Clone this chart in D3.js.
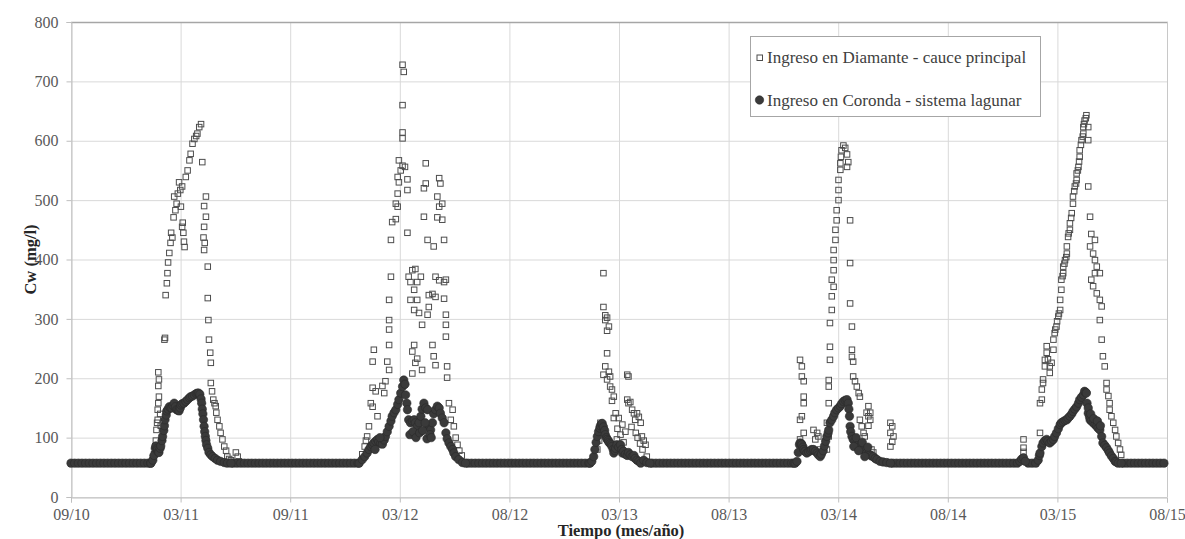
<!DOCTYPE html>
<html>
<head>
<meta charset="utf-8">
<script src="https://cdn.jsdelivr.net/npm/d3@7"></script>
<style>
  html, body { margin: 0; padding: 0; background: #fff; }
  svg { display: block; }
</style>
</head>
<body>
<svg id="chart" width="1185" height="539"></svg>
<script>
// ---- axis labels -------------------------------------------------------
const xTickLabels = ["09/10", "03/11", "09/11", "03/12", "08/12", "03/13", "08/13", "03/14", "08/14", "03/15", "08/15"];
const yTickValues = [0, 100, 200, 300, 400, 500, 600, 700, 800];
const seriesNames = ["Ingreso en Diamante - cauce principal", "Ingreso en Coronda - sistema lagunar"];
const xTitle = "Tiempo (mes/año)";
const yTitle = "Cw (mg/l)";

// time is counted in days from the first axis label (09/10) to the last (08/15)
const dayExtent = [0, 1795];

// ---- Cw readings: [day, mg/l] -----------------------------------------
// low-water level between the saline pulses
const corondaBase = [
  [0,57],[6,57],[12,57],[18,57],[24,57],[30,57],[36,57],[42,57],[48,57],[54,57],[60,57],[66,57],[72,57],[78,57],[84,57],[90,57],[96,57],[102,57],[108,57],[114,57],[120,57],[126,57],[130,57],
  [266,57],[272,57],[278,57],[284,57],[290,57],[296,57],[302,57],[308,57],[314,57],[320,57],[326,57],[332,57],[338,57],[344,57],[350,57],[356,57],[362,57],[368,57],[374,57],[380,57],[386,57],[392,57],[398,57],[404,57],[410,57],[416,57],[422,57],[428,57],[434,57],[440,57],[446,57],[452,57],[458,57],[464,57],[470,57],
  [650,57],[656,57],[662,57],[668,57],[674,57],[680,57],[686,57],[692,57],[698,57],[704,57],[710,57],[716,57],[722,57],[728,57],[734,57],[740,57],[746,57],[752,57],[758,57],[764,57],[770,57],[776,57],[782,57],[788,57],[794,57],[800,57],[806,57],[812,57],[818,57],[824,57],[830,57],[836,57],[842,57],[848,57],
  [952,57],[958,57],[964,57],[970,57],[976,57],[982,57],[988,57],[994,57],[1000,57],[1006,57],[1012,57],[1018,57],[1024,57],[1030,57],[1036,57],[1042,57],[1048,57],[1054,57],[1060,57],[1066,57],[1072,57],[1078,57],[1084,57],[1090,57],[1096,57],[1102,57],[1108,57],[1114,57],[1120,57],[1126,57],[1132,57],[1138,57],[1144,57],[1150,57],[1156,57],[1162,57],[1168,57],[1174,57],[1180,57],[1184,57],
  [1346,57],[1352,57],[1358,57],[1364,57],[1370,57],[1376,57],[1382,57],[1388,57],[1394,57],[1400,57],[1406,57],[1412,57],[1418,57],[1424,57],[1430,57],[1436,57],[1442,57],[1448,57],[1454,57],[1460,57],[1466,57],[1472,57],[1478,57],[1484,57],[1490,57],[1496,57],[1502,57],[1508,57],[1514,57],[1520,57],[1526,57],[1532,57],[1538,57],[1544,57],[1550,57],
  [1568,57],[1574,57],[1580,57],
  [1724,57],[1730,57],[1736,57],[1742,57],[1748,57],[1754,57],[1760,57],[1766,57],[1772,57],[1778,57],[1784,57],[1790,57]
];
const diamanteBase = [
  [0,57],[12,57],[24,57],[36,57],[48,57],[60,57],[72,57],[84,57],[96,57],[108,57],[120,57],[130,57],
  [266,57],[278,57],[290,57],[302,57],[314,57],[326,57],[338,57],[350,57],[362,57],[374,57],[386,57],[398,57],[410,57],[422,57],[434,57],[446,57],[458,57],[470,57],
  [650,57],[662,57],[674,57],[686,57],[698,57],[710,57],[722,57],[734,57],[746,57],[758,57],[770,57],[782,57],[794,57],[806,57],[818,57],[830,57],[842,57],[850,57],
  [952,57],[964,57],[976,57],[988,57],[1000,57],[1012,57],[1024,57],[1036,57],[1048,57],[1060,57],[1072,57],[1084,57],[1096,57],[1108,57],[1120,57],[1132,57],[1144,57],[1156,57],[1168,57],[1180,57],
  [1352,57],[1364,57],[1376,57],[1388,57],[1400,57],[1412,57],[1424,57],[1436,57],[1448,57],[1460,57],[1472,57],[1484,57],[1496,57],[1508,57],[1520,57],[1532,57],[1544,57],[1568,57],[1580,57],
  [1724,57],[1736,57],[1748,57],[1760,57],[1772,57],[1784,57],[1790,57]
];

// 2010-2011 pulse
const coronda1 = [
  [131,57],[134,62],[136,70],[138,82],[139,86],[141,82],[142,80],[143,76],[144,75],[146,82],[147,86],[149,95],[150,102],[152,112],[153,120],[154,130],[156,138],[157,145],[159,148],[161,152],[163,150],[165,150],[167,154],[169,158],[171,152],[173,147],[175,146],[177,145],[179,150],[180,155],[182,157],[185,158],[188,161],[191,164],[194,167],[196,169],[199,170],[202,172],[205,174],[207,175],[209,175],[211,173],[213,165],[214,158],[215,148],[216,140],[217,130],[218,119],[219,110],[220,102],[221,95],[222,88],[224,82],[226,75],[229,71],[232,68],[236,65],[240,62],[245,60],[251,58],[256,57],[262,57]
];
const diamante1 = [
  [134,66],[136,72],[138,85],[139,95],[140,113],[141,125],[142,130],[142,147],[143,158],[144,169],[143,187],[144,198],[143,210],[146,140],[147,120],[153,265],[154,268],[155,340],[157,360],[158,377],[159,395],[161,411],[163,428],[164,445],[166,437],[168,471],[169,506],[171,483],[173,494],[175,511],[177,530],[179,517],[180,489],[182,523],[182,455],[183,462],[184,445],[185,430],[186,421],[188,539],[191,550],[194,567],[196,578],[199,595],[202,603],[205,608],[207,612],[210,623],[213,628],[215,564],[218,490],[221,506],[221,472],[218,455],[217,437],[219,428],[218,416],[224,388],[224,335],[225,298],[226,265],[228,243],[229,226],[229,192],[231,178],[233,164],[235,158],[237,153],[238,142],[240,130],[243,119],[245,108],[248,97],[251,85],[254,78],[256,68],[259,64],[262,62],[270,75],[273,68],[275,60]
];

// 2011-2012 pulse
const coronda2 = [
  [472,57],[477,63],[481,68],[485,74],[488,80],[491,85],[494,88],[496,91],[499,94],[502,97],[504,93],[507,90],[510,89],[513,96],[515,102],[518,110],[521,119],[524,128],[526,136],[529,142],[532,147],[535,156],[537,164],[540,175],[543,186],[545,197],[547,190],[548,172],[550,158],[551,147],[553,130],[556,125],[559,128],[562,130],[564,125],[567,119],[570,125],[573,136],[575,148],[578,158],[581,150],[584,147],[586,119],[589,113],[592,125],[594,140],[597,147],[600,153],[603,150],[605,141],[608,133],[611,125],[614,108],[616,98],[619,91],[622,85],[625,80],[627,74],[630,68],[635,63],[641,58],[646,57],
  [555,105],[560,110],[565,100],[571,108],[576,112],[583,98],[588,105],[580,125],[590,100],[498,80],[506,100]
];
const diamante2 = [
  [477,72],[481,85],[483,95],[485,102],[488,119],[491,158],[494,152],[494,184],[494,228],[496,248],[499,178],[502,136],[510,187],[513,175],[515,195],[518,228],[521,214],[521,256],[521,282],[521,298],[521,332],[524,371],[524,433],[526,463],[532,468],[532,494],[535,489],[535,511],[535,539],[537,530],[537,567],[540,550],[543,558],[543,604],[543,614],[543,660],[543,728],[545,716],[547,556],[551,535],[551,517],[551,445],[553,371],[556,362],[556,332],[559,382],[559,245],[559,208],[562,349],[562,315],[562,256],[564,384],[564,226],[567,362],[567,332],[567,233],[570,310],[573,371],[575,290],[575,214],[578,520],[578,472],[581,562],[581,528],[584,433],[584,307],[586,340],[586,320],[592,342],[592,256],[594,422],[594,237],[597,371],[597,337],[597,222],[600,506],[600,471],[603,537],[603,489],[603,365],[605,528],[608,494],[608,467],[611,433],[611,362],[611,334],[614,366],[614,307],[614,290],[614,270],[616,220],[616,201],[619,158],[622,130],[625,147],[627,119],[630,100],[633,88],[636,78],[640,70]
];

// 2012-2013 pulse
const coronda3 = [
  [850,57],[853,60],[856,68],[858,80],[860,92],[862,102],[864,110],[866,116],[867,120],[869,123],[870,124],[872,118],[874,112],[875,105],[877,100],[878,97],[880,95],[881,92],[883,90],[885,88],[886,85],[888,80],[889,74],[891,78],[892,82],[894,88],[897,84],[900,88],[902,80],[903,74],[905,77],[908,72],[911,70],[913,75],[916,71],[919,68],[922,70],[924,65],[927,62],[930,60],[933,57],[938,62],[943,58],[948,57]
];
const diamante3 = [
  [862,80],[865,95],[867,125],[868,108],[872,377],[872,320],[875,306],[878,302],[875,298],[881,287],[878,280],[878,242],[875,220],[872,206],[881,211],[883,203],[878,198],[883,186],[886,181],[889,169],[886,162],[892,141],[889,133],[897,133],[903,122],[911,206],[913,203],[911,164],[913,158],[916,160],[919,147],[922,141],[927,141],[924,130],[930,135],[933,125],[935,102],[938,95],[905,92],[900,105],[894,97],[941,88],[943,68],[895,115],[908,110],[918,118],[925,108],[928,100],[932,90],[936,80]
];

// 2013-2014 pulse
const coronda4 = [
  [1186,57],[1189,60],[1191,75],[1193,88],[1194,91],[1196,90],[1197,88],[1199,84],[1200,80],[1202,77],[1205,74],[1208,76],[1211,78],[1213,80],[1216,80],[1219,77],[1222,74],[1224,71],[1227,68],[1229,72],[1232,78],[1234,86],[1236,94],[1238,102],[1240,108],[1241,113],[1243,125],[1246,130],[1249,136],[1251,142],[1254,147],[1257,150],[1260,153],[1262,157],[1265,161],[1268,163],[1271,164],[1273,158],[1274,148],[1275,136],[1276,119],[1277,110],[1279,102],[1281,97],[1284,94],[1287,91],[1290,88],[1292,85],[1295,82],[1298,80],[1300,77],[1303,74],[1306,72],[1309,71],[1311,69],[1314,68],[1317,65],[1320,63],[1325,60],[1330,59],[1336,58],[1342,57],
  [1282,85],[1286,100],[1290,78],[1296,92],[1300,68],[1305,84]
];
const diamante4 = [
  [1194,231],[1197,220],[1197,203],[1200,195],[1200,169],[1200,158],[1197,136],[1194,130],[1200,108],[1194,97],[1216,113],[1222,108],[1219,97],[1224,102],[1227,80],
  [1238,80],[1241,102],[1238,125],[1241,158],[1241,186],[1241,197],[1243,231],[1243,253],[1243,293],[1246,315],[1246,338],[1249,354],[1246,366],[1249,382],[1249,399],[1249,416],[1252,433],[1252,450],[1254,466],[1254,483],[1257,500],[1257,517],[1257,534],[1260,551],[1260,562],[1261,573],[1262,584],[1265,592],[1268,588],[1271,577],[1273,564],[1271,556],
  [1276,466],[1276,394],[1276,326],[1279,287],[1279,248],[1279,236],[1281,228],[1281,203],[1284,195],[1287,186],[1290,175],[1292,169],[1292,130],[1295,119],[1298,108],[1300,102],[1303,142],[1306,153],[1309,142],[1306,136],[1309,130],[1306,120],[1311,80],[1314,75],[1342,125],[1345,119],[1342,108],[1347,102],[1345,93],[1342,85]
];

// 2014-2015 pulse
const coronda5 = [
  [1554,60],[1557,64],[1560,66],[1563,60],[1584,62],[1586,70],[1587,74],[1590,85],[1592,91],[1595,95],[1598,97],[1600,94],[1603,91],[1606,94],[1609,97],[1611,102],[1614,108],[1617,115],[1620,122],[1622,125],[1625,127],[1628,129],[1631,130],[1633,133],[1636,136],[1639,140],[1641,144],[1644,148],[1647,152],[1650,158],[1652,164],[1655,168],[1658,172],[1660,178],[1662,176],[1663,175],[1664,158],[1666,141],[1668,135],[1669,130],[1671,128],[1674,125],[1677,122],[1680,119],[1682,116],[1685,113],[1688,102],[1690,91],[1693,87],[1696,83],[1699,78],[1701,74],[1704,69],[1707,65],[1710,60],[1712,59],[1715,57],[1720,57],
  [1666,150],[1670,140],[1675,132],[1681,128],[1686,120]
];
const diamante5 = [
  [1560,97],[1560,83],[1560,76],
  [1587,108],[1587,158],[1590,164],[1590,181],[1592,192],[1592,198],[1595,220],[1595,231],[1598,243],[1598,254],[1600,232],[1603,209],[1603,220],[1606,226],[1609,248],[1609,265],[1611,276],[1612,282],[1614,287],[1615,296],[1617,304],[1618,309],[1620,315],[1620,332],[1622,349],[1622,366],[1624,372],[1625,377],[1625,388],[1627,393],[1628,399],[1630,404],[1631,410],[1631,422],[1633,438],[1634,444],[1636,450],[1636,461],[1638,470],[1639,478],[1641,494],[1641,506],[1643,515],[1644,523],[1646,528],[1647,534],[1647,545],[1649,550],[1650,556],[1651,565],[1652,573],[1652,584],[1654,593],[1655,601],[1657,607],[1658,612],[1658,623],[1659,628],[1660,634],[1662,638],[1663,643],
  [1666,623],[1666,601],[1666,523],[1669,472],[1671,443],[1669,422],[1677,433],[1674,410],[1677,399],[1680,388],[1685,377],[1677,377],[1671,366],[1674,355],[1680,343],[1685,332],[1688,321],[1685,298],[1688,265],[1690,237],[1693,220],[1696,192],[1696,181],[1699,170],[1701,158],[1701,147],[1704,136],[1707,125],[1710,113],[1712,102],[1715,91],[1718,80],[1720,71]
];

const diamante = [].concat(diamanteBase, diamante1, diamante2, diamante3, diamante4, diamante5);
const coronda = [].concat(corondaBase, coronda1, coronda2, coronda3, coronda4, coronda5);

// ---- layout ------------------------------------------------------------
const svg = d3.select("#chart");
const plot = { left: 71, right: 1167, top: 22, bottom: 497 };

const x = d3.scaleLinear().domain(dayExtent).range([plot.left, plot.right]);
const y = d3.scaleLinear().domain([0, 800]).range([plot.bottom, plot.top]);

const xTickValues = xTickLabels.map((_, i) => dayExtent[0] + i * (dayExtent[1] - dayExtent[0]) / (xTickLabels.length - 1));

const serif = "Liberation Serif, Times New Roman, serif";
const gridColor = "#d9d9d9";
const axisColor = "#bfbfbf";

// gridlines
const grid = svg.append("g");
grid.selectAll("line.h").data(yTickValues).join("line")
  .attr("x1", plot.left).attr("x2", plot.right)
  .attr("y1", d => y(d) + 0.5).attr("y2", d => y(d) + 0.5)
  .attr("stroke", gridColor).attr("stroke-width", 1);
grid.selectAll("line.v").data(xTickValues).join("line")
  .attr("x1", d => x(d) + 0.5).attr("x2", d => x(d) + 0.5)
  .attr("y1", plot.top).attr("y2", plot.bottom)
  .attr("stroke", gridColor).attr("stroke-width", 1);

// frame: top and right edges
svg.append("line").attr("x1", plot.left).attr("x2", plot.right + 1)
  .attr("y1", plot.top + 0.5).attr("y2", plot.top + 0.5)
  .attr("stroke", "#a6a6a6").attr("stroke-width", 1.5);
svg.append("line").attr("x1", plot.right + 0.5).attr("x2", plot.right + 0.5)
  .attr("y1", plot.top).attr("y2", plot.bottom)
  .attr("stroke", "#c8c8c8").attr("stroke-width", 1);

// axes
const xAxis = d3.axisBottom(x).tickValues(xTickValues)
  .tickFormat((d, i) => xTickLabels[i]).tickSize(5).tickPadding(6);
const yAxis = d3.axisLeft(y).tickValues(yTickValues)
  .tickFormat(d3.format("d")).tickSize(5).tickPadding(8);

const gx = svg.append("g").attr("transform", `translate(0,${plot.bottom + 0.5})`).call(xAxis);
const gy = svg.append("g").attr("transform", `translate(${plot.left + 0.5},0)`).call(yAxis);
[gx, gy].forEach(g => {
  g.attr("font-family", serif).attr("font-size", 16);
  g.select(".domain").attr("stroke", axisColor);
  g.selectAll(".tick line").attr("stroke", axisColor);
  g.selectAll(".tick text").attr("fill", "#595959");
});

// axis titles
svg.append("text")
  .attr("x", (plot.left + plot.right) / 2 + 2).attr("y", 536)
  .attr("text-anchor", "middle")
  .attr("font-family", serif).attr("font-size", 16.5).attr("font-weight", "bold")
  .attr("fill", "#262626").text(xTitle);
svg.append("text")
  .attr("transform", `translate(36,${(plot.top + plot.bottom) / 2}) rotate(-90)`)
  .attr("text-anchor", "middle")
  .attr("font-family", serif).attr("font-size", 16.5).attr("font-weight", "bold")
  .attr("fill", "#262626").text(yTitle);

// Diamante: open squares
const sq = 5.5;
svg.append("g").selectAll("rect").data(diamante).join("rect")
  .attr("x", d => x(d[0]) - sq / 2).attr("y", d => y(d[1]) - sq / 2)
  .attr("width", sq).attr("height", sq)
  .attr("fill", "none").attr("stroke", "#4d4d4d").attr("stroke-width", 1);

// Coronda: filled circles
const rDot = 4.2;
svg.append("g").selectAll("circle").data(coronda).join("circle")
  .attr("cx", d => x(d[0])).attr("cy", d => y(d[1]))
  .attr("r", rDot)
  .attr("fill", "#3a3a3a").attr("stroke", "#2a2a2a").attr("stroke-width", 0.6);

// legend
const lg = svg.append("g").attr("transform", "translate(750,36)");
lg.append("rect").attr("x", 0.5).attr("y", 0.5).attr("width", 290).attr("height", 80)
  .attr("fill", "#fff").attr("stroke", "#a6a6a6").attr("stroke-width", 1);
lg.append("rect").attr("x", 7).attr("y", 19).attr("width", sq).attr("height", sq)
  .attr("fill", "none").attr("stroke", "#4d4d4d").attr("stroke-width", 1);
lg.append("circle").attr("cx", 9.5).attr("cy", 64).attr("r", rDot)
  .attr("fill", "#3a3a3a").attr("stroke", "#2a2a2a").attr("stroke-width", 0.6);
lg.selectAll("text.lab").data(seriesNames).join("text")
  .attr("x", 17).attr("y", (d, i) => 27 + i * 43)
  .attr("font-family", serif).attr("font-size", 17)
  .attr("fill", "#404040").text(d => d);
</script>
</body>
</html>
